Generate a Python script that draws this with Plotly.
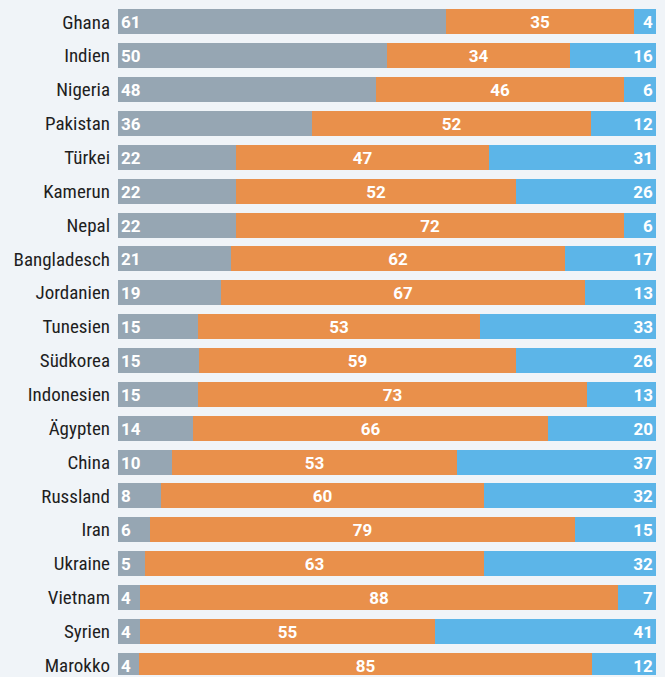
import plotly.graph_objects as go

countries = ["Ghana", "Indien", "Nigeria", "Pakistan", "Türkei", "Kamerun", "Nepal",
             "Bangladesch", "Jordanien", "Tunesien", "Südkorea", "Indonesien", "Ägypten",
             "China", "Russland", "Iran", "Ukraine", "Vietnam", "Syrien", "Marokko"]
gray_vals = [61, 50, 48, 36, 22, 22, 22, 21, 19, 15, 15, 15, 14, 10, 8, 6, 5, 4, 4, 4]
orange_vals = [35, 34, 46, 52, 47, 52, 72, 62, 67, 53, 59, 73, 66, 53, 60, 79, 63, 88, 55, 85]
blue_vals = [4, 16, 6, 12, 31, 26, 6, 17, 13, 33, 26, 13, 20, 37, 32, 15, 32, 7, 41, 12]

totals = [g + o + b for g, o, b in zip(gray_vals, orange_vals, blue_vals)]

def share(vals):
    return [v / t * 100 for v, t in zip(vals, totals)]

BG = "#f0f4f8"
FONT = "Liberation Sans Narrow, Roboto Condensed, Roboto, Noto Sans, sans-serif"
NUMFONT = "Roboto, Noto Sans, sans-serif"

series = [
    (gray_vals, "#96a6b3", "start"),
    (orange_vals, "#e9904b", "middle"),
    (blue_vals, "#5cb5e8", "end"),
]

fig = go.Figure()
for vals, color, anchor in series:
    fig.add_trace(go.Bar(
        y=countries,
        x=share(vals),
        orientation="h",
        marker=dict(color=color, line=dict(width=0)),
        width=0.74,
        text=[str(v) for v in vals],
        textposition="inside",
        insidetextanchor=anchor,
        constraintext="none",
        textangle=0,
        textfont=dict(color="white", size=17, family=NUMFONT, weight="bold"),
        hoverinfo="skip",
    ))

fig.update_layout(
    barmode="stack",
    width=665,
    height=677,
    margin=dict(l=118, r=9, t=0, b=0),
    paper_bgcolor=BG,
    plot_bgcolor=BG,
    showlegend=False,
    bargap=0,
    xaxis=dict(range=[0, 100], visible=False, fixedrange=True),
    yaxis=dict(
        type="category",
        categoryorder="array",
        categoryarray=countries,
        range=[19.29, -0.648],
        showgrid=False,
        zeroline=False,
        showline=False,
        ticks="",
        ticklabelstandoff=7,
        tickfont=dict(size=19, color="#1e1e1e", family=FONT),
    ),
)

fig.write_html("out.html")
